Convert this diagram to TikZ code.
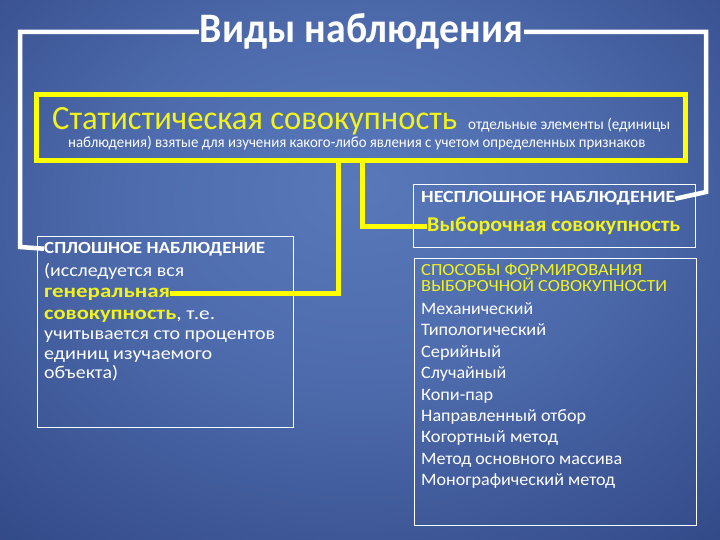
\documentclass[tikz,border=0pt]{standalone}
\usepackage{fontspec}
\usepackage{graphicx}
\setmainfont{Carlito}
\usetikzlibrary{calc}
\definecolor{ylw}{RGB}{255,255,0}
\definecolor{ytxt}{RGB}{242,242,28}
\definecolor{c0}{RGB}{88,120,186}
\definecolor{c1}{RGB}{78,108,173}
\definecolor{c2}{RGB}{42,62,124}
\definecolor{c3}{RGB}{18,30,78}
\pgfdeclareradialshading{bgshade}{\pgfpoint{0bp}{8bp}}{color(0bp)=(c0); color(16bp)=(c1); color(46bp)=(c2); color(72bp)=(c3)}
\newcommand{\fs}[1]{\fontsize{#1}{#1}\selectfont}
\newcommand{\hw}[2]{\resizebox{#1pt}{\height}{#2}}
\begin{document}
\begin{tikzpicture}[x=1pt,y=-1pt,
  wline/.style={draw=white, line width=4.5pt},
  yline/.style={draw=ylw, line width=5pt},
  tbox/.style={draw=white, line width=1pt, inner sep=0pt},
  txt/.style={anchor=base west, inner sep=0pt, text=white},
  ytx/.style={anchor=base west, inner sep=0pt, text=ytxt}]
\useasboundingbox (0,0) rectangle (720,540);
\shade[shading=bgshade] (0,0) rectangle (720,540);

% title
\node[anchor=base, inner sep=1pt, text=white, font=\fs{42}\bfseries] (title) at (361.5,43) {\hw{323}{Виды наблюдения}};

% yellow box
\node[yline, minimum width=649pt, minimum height=66pt, inner sep=0pt] (ybox) at (360.5,127.5) {};
\node[ytx, font=\fs{34}] (stat) at (52,130) {\hw{405}{Статистическая совокупность}};
\node[txt, font=\fs{15.5}] (def1) at (468,130) {\hw{202}{отдельные элементы (единицы}};
\node[anchor=base west, inner sep=0pt, text=white, font=\fs{15.5}] (def2) at (68,148) {\hw{577}{наблюдения) взятые для изучения какого-либо явления с учетом определенных признаков}};

% boxes
\node[tbox, minimum width=256pt, minimum height=191pt] (lbox) at (165,331.5) {};
\node[tbox, minimum width=282pt, minimum height=62pt] (rtbox) at (554,216) {};
\node[tbox, minimum width=282pt, minimum height=267pt] (rbbox) at (555,391.5) {};

% left box text
\node[txt, font=\fs{17}\bfseries] (splosh) at (44,253) {\hw{221}{СПЛОШНОЕ НАБЛЮДЕНИЕ}};
\node[txt, font=\fs{18}] (l1) at (44,276) {\hw{140}{(исследуется вся}};
\node[ytx, font=\fs{19}\bfseries] (gen) at (44,297) {\hw{126}{генеральная}};
\node[txt, font=\fs{18}] (l3) at (44,319) {\hw{171}{\textcolor{ytxt}{\fs{19}\bfseries совокупность}, т.е.}};
\node[txt, font=\fs{18}] (l4) at (44,339) {\hw{231}{учитывается сто процентов}};
\node[txt, font=\fs{18}] (l5) at (44,359) {\hw{168}{единиц изучаемого}};
\node[txt, font=\fs{18}] (l6) at (44,378) {\hw{74}{объекта)}};

% right top text
\node[txt, font=\fs{17}\bfseries] (nesplosh) at (421,203) {\hw{254}{НЕСПЛОШНОЕ НАБЛЮДЕНИЕ}};
\node[ytx, font=\fs{21}\bfseries] (vyb) at (427,232) {\hw{253}{Выборочная совокупность}};

% right bottom text
\node[ytx, font=\fs{17}] (sp1) at (421,275) {\hw{221}{СПОСОБЫ ФОРМИРОВАНИЯ}};
\node[ytx, font=\fs{17}] (sp2) at (421,291) {\hw{246}{ВЫБОРОЧНОЙ СОВОКУПНОСТИ}};
\foreach \t/\w [count=\i from 0] in {Механический/112,Типологический/125,Серийный/80,Случайный/85,Копи-пар/72,Направленный отбор/165,Когортный метод/137,Метод основного массива/201,Монографический метод/194}
  \node[txt, font=\fs{17.5}] (m\i) at (421,{314.5+21.4*\i}) {\hw{\w}{\t}};

% white frame connectors
\draw[wline] (title.west) -| (20,247) -- (splosh.west);
\draw[wline] (title.east) -| (706,192) -- (nesplosh.east);

% yellow connectors
\coordinate (ya) at (338,160.5);
\coordinate (yb) at (362,160.5);
\draw[yline] (ya) |- (gen.east);
\draw[yline] (yb) |- (vyb.west);
\end{tikzpicture}
\end{document}
